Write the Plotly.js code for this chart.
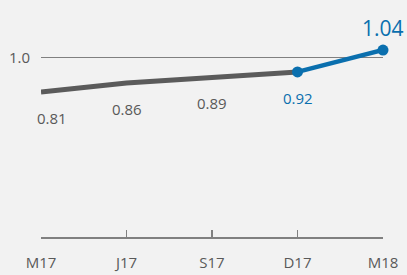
<!DOCTYPE html>
<html><head><meta charset="utf-8">
<script src="https://cdn.plot.ly/plotly-3.0.1.min.js"></script>
<style>html,body{margin:0;padding:0;background:#f2f2f2;}#c{width:407px;height:275px;}</style>
</head><body><div id="c"></div>
<script>
var categories = ['M17','J17','S17','D17','M18'];
var pastValues = [0.81, 0.86, 0.89, 0.92];
var recentCategories = ['D17','M18'];
var recentValues = [0.92, 1.04];
var refTick = [1.0];
var refTickText = ['1.0'];

var grey = '#5b5b5b', blue = '#0a6fae', txt = '#595959';
var fontFam = '"Open Sans", "Noto Sans", sans-serif';

var traces = [
  {x: categories.slice(0, pastValues.length), y: pastValues, type:'scatter', mode:'lines',
   line:{color:grey, width:5}, cliponaxis:false, hoverinfo:'skip'},
  {x: recentCategories, y: recentValues, type:'scatter', mode:'lines+markers',
   line:{color:blue, width:4.5}, marker:{color:blue, size:11}, cliponaxis:false, hoverinfo:'skip'}
];

var annotations = [];
pastValues.forEach(function(v,i){
  var isLast = i === pastValues.length-1;
  annotations.push({x: categories[i], y: v, text: v.toFixed(2), showarrow:false,
    yshift:-26, xshift: i===0 ? 11 : 0,
    font:{family:fontFam, size:15, color: isLast ? blue : txt}});
});
annotations.push({x: recentCategories[1], y: recentValues[1], text: recentValues[1].toFixed(2), showarrow:false,
  yshift:22, font:{family:fontFam, size:21, color:blue}});

var layout = {
  width:407, height:275,
  margin:{l:41, r:24, t:0, b:38},
  paper_bgcolor:'#f2f2f2', plot_bgcolor:'#f2f2f2',
  showlegend:false,
  font:{family:fontFam, color:txt, size:15},
  xaxis:{type:'category', categoryarray:categories, range:[0,4], showgrid:false, zeroline:false,
    showline:true, linecolor:'#808080', linewidth:2, ticks:'inside', ticklen:7, tickwidth:1.5, tickcolor:'#808080',
    ticklabelstandoff:11, tickfont:{family:fontFam, size:15, color:txt}, fixedrange:true},
  yaxis:{range:[0.016, 1.314], tickvals:refTick, ticktext:refTickText, showgrid:true, gridcolor:'#808080', gridwidth:1.5,
    zeroline:false, showline:false, ticks:'', ticklabelstandoff:10, tickfont:{family:fontFam, size:15, color:txt}, fixedrange:true},
  annotations: annotations
};
Plotly.newPlot('c', traces, layout, {displayModeBar:false, staticPlot:true});
</script></body></html>
